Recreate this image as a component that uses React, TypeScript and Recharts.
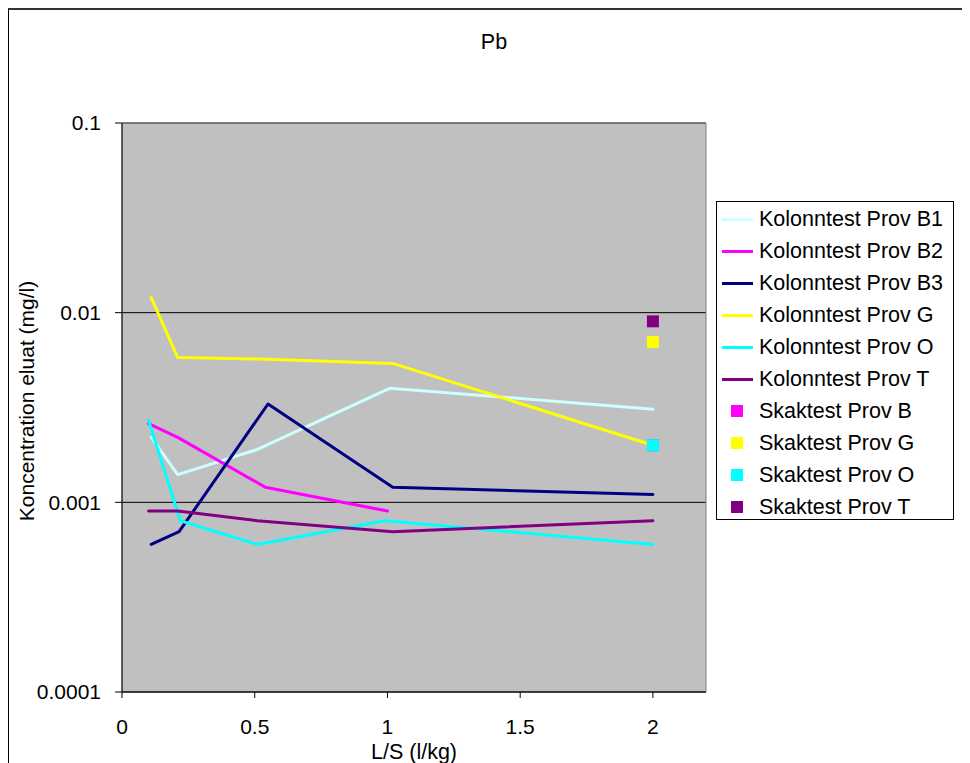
import { ScatterChart, Scatter, XAxis, YAxis, CartesianGrid, ReferenceArea } from 'recharts';

// L/S (l/kg) and concentration (mg/l) per column test
const b1X = [0.11, 0.21, 0.51, 1.01, 2.0];
const b1Y = [0.0022, 0.0014, 0.0019, 0.004, 0.0031];
const b2X = [0.1, 0.21, 0.54, 1.0];
const b2Y = [0.0026, 0.0022, 0.0012, 0.0009];
const b3X = [0.11, 0.215, 0.55, 1.02, 2.0];
const b3Y = [0.0006, 0.0007, 0.0033, 0.0012, 0.0011];
const gX = [0.11, 0.21, 0.52, 1.02, 2.0];
const gY = [0.012, 0.0058, 0.0057, 0.0054, 0.002];
const oX = [0.1, 0.22, 0.51, 0.99, 2.0];
const oY = [0.0027, 0.0008, 0.0006, 0.0008, 0.0006];
const tX = [0.1, 0.21, 0.51, 1.02, 2.0];
const tY = [0.0009, 0.0009, 0.0008, 0.0007, 0.0008];

// batch tests (single point each)
const skakX = 2.0;
const skakNames = ['Skaktest Prov B', 'Skaktest Prov G', 'Skaktest Prov O', 'Skaktest Prov T'];
const skakY = [0.002, 0.007, 0.002, 0.009];
const skakColors = ['#ff00ff', '#ffff00', '#00ffff', '#800080'];

const lineNames = [
  'Kolonntest Prov B1',
  'Kolonntest Prov B2',
  'Kolonntest Prov B3',
  'Kolonntest Prov G',
  'Kolonntest Prov O',
  'Kolonntest Prov T',
];
const lineColors = ['#ccffff', '#ff00ff', '#000080', '#ffff00', '#00ffff', '#800080'];
const lineXs = [b1X, b2X, b3X, gX, oX, tX];
const lineYs = [b1Y, b2Y, b3Y, gY, oY, tY];

const xTicks = [0, 0.5, 1, 1.5, 2];
const yTicks = [0.0001, 0.001, 0.01, 0.1];

const FONT = '"Liberation Sans", Arial, sans-serif';

const toPoints = (xs: number[], ys: number[]) => xs.map((x, i) => ({ x, y: ys[i] }));

export default function App() {
  const tick = { fill: '#000', fontSize: 21, fontFamily: FONT };
  const rowStyle = { position: 'relative' as const, height: 32, lineHeight: '32px', fontSize: 21.5, whiteSpace: 'nowrap' as const };
  return (
    <div
      style={{
        position: 'relative',
        width: 962,
        height: 755,
        boxSizing: 'border-box',
        borderTop: '2px solid #333',
        borderLeft: '1px solid #000',
        background: '#fff',
        fontFamily: FONT,
      }}
    >
      <style>{'html,body{overflow:hidden}'}</style>
      <div style={{ position: 'absolute', left: 0, top: 0 }}>
        <ScatterChart width={961} height={753} margin={{ top: 113, right: 264, bottom: 0, left: 0 }}>
          <CartesianGrid vertical={false} fill="#c0c0c0" stroke="#000" strokeOpacity={1} />
          <ReferenceArea x1={0} x2={2.2} y1={0.0001} y2={0.1} fill="none" stroke="#808080" strokeWidth={1} />
          <XAxis
            type="number"
            dataKey="x"
            domain={[0, 2.2]}
            ticks={xTicks}
            allowDataOverflow
            height={71}
            tick={tick}
            tickSize={6}
            tickMargin={21}
            stroke="#000"
            label={{ value: 'L/S (l/kg)', position: 'insideBottom', offset: 4, fill: '#000', fontSize: 21.5, fontFamily: FONT }}
          />
          <YAxis
            type="number"
            dataKey="y"
            scale="log"
            domain={[0.0001, 0.1]}
            ticks={yTicks}
            allowDataOverflow
            width={113}
            tick={tick}
            tickSize={7}
            tickMargin={14}
            stroke="#000"
            tickFormatter={(v: number) => String(v)}
          />
          {lineNames.map((name, i) => (
            <Scatter
              key={name}
              name={name}
              data={toPoints(lineXs[i], lineYs[i])}
              fill={lineColors[i]}
              line={{ stroke: lineColors[i], strokeWidth: 3, strokeLinejoin: 'round', strokeLinecap: 'round' }}
              shape={() => <g />}
              isAnimationActive={false}
            />
          ))}
          {skakNames.map((name, i) => (
            <Scatter
              key={name}
              name={name}
              data={[{ x: skakX, y: skakY[i] }]}
              fill={skakColors[i]}
              shape={(p: any) => <rect x={p.cx - 6} y={p.cy - 6} width={12} height={12} fill={skakColors[i]} />}
              isAnimationActive={false}
            />
          ))}
        </ScatterChart>
      </div>

      {/* title */}
      <div
        style={{ position: 'absolute', left: 385, top: 20, width: 200, textAlign: 'center', fontSize: 21.5, lineHeight: '24px' }}
      >
        Pb
      </div>

      {/* y axis title */}
      <div
        style={{
          position: 'absolute',
          left: 18 - 200,
          top: 391 - 12,
          width: 400,
          textAlign: 'center',
          fontSize: 21,
          lineHeight: '24px',
          transform: 'rotate(-90deg)',
          whiteSpace: 'nowrap',
        }}
      >
        Koncentration eluat (mg/l)
      </div>

      {/* legend */}
      <div
        style={{
          position: 'absolute',
          left: 707,
          top: 191,
          width: 238,
          height: 319,
          boxSizing: 'border-box',
          border: '1px solid #000',
          background: '#fff',
          paddingTop: 1.2,
        }}
      >
        {lineNames.map((name, i) => (
          <div key={name} style={rowStyle}>
            <span style={{ position: 'absolute', left: 5, top: 14.5, width: 31, height: 3, background: lineColors[i] }} />
            <span style={{ position: 'absolute', left: 42 }}>{name}</span>
          </div>
        ))}
        {skakNames.map((name, i) => (
          <div key={name} style={rowStyle}>
            <span style={{ position: 'absolute', left: 14, top: 10, width: 12, height: 12, background: skakColors[i] }} />
            <span style={{ position: 'absolute', left: 42 }}>{name}</span>
          </div>
        ))}
      </div>
    </div>
  );
}
